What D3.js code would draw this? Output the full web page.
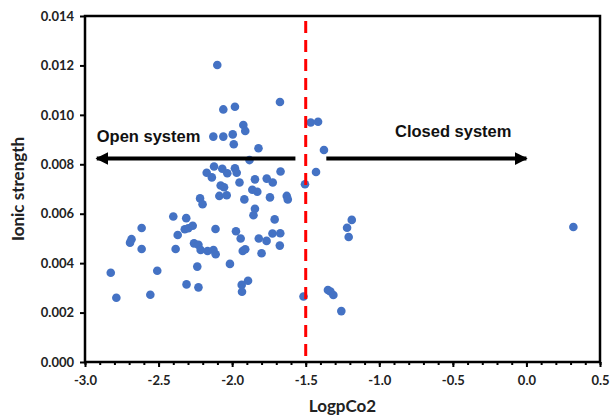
<!DOCTYPE html>
<html>
<head>
<meta charset="utf-8">
<script src="https://cdn.jsdelivr.net/npm/d3@7"></script>
<style>
  body { margin: 0; background: #fff; }
  text { font-family: Lato, "Open Sans", sans-serif; }
</style>
</head>
<body>
<div id="chart"></div>
<script>
// data: LogpCo2 vs ionic strength
var logpco2 = [
  -2.101, -2.060, -1.981, -1.675, -1.924, -1.911, -2.128, -2.060, -1.996, -1.989,
  -1.821, -1.882, -1.466, -1.416, -1.376, -1.430, -1.505, -1.187, -1.219, -1.208,
  -1.515, -1.349, -1.332, -1.312, -1.258, 0.319, -2.123, -2.067, -2.033, -1.981,
  -1.969, -2.138, -1.671, -1.950, -1.845, -1.765, -1.724, -2.078, -2.055, -2.087,
  -2.037, -1.863, -1.829, -1.917, -1.743, -1.629, -1.622, -1.845, -1.855, -1.711,
  -2.113, -1.974, -1.942, -1.819, -1.766, -1.726, -1.673, -1.676, -2.127, -2.112,
  -1.928, -1.911, -1.800, -2.015, -1.892, -1.935, -1.933, -2.173, -2.218, -2.201,
  -2.400, -2.312, -2.615, -2.322, -2.298, -2.268, -2.370, -2.684, -2.694, -2.615,
  -2.384, -2.259, -2.229, -2.214, -2.167, -2.825, -2.509, -2.237, -2.787, -2.556,
  -2.310, -2.229
];
var ionic = [
  0.01202, 0.01022, 0.01033, 0.01052, 0.00959, 0.00935, 0.00912, 0.00912, 0.00921, 0.00881,
  0.00865, 0.00817, 0.00969, 0.00972, 0.00858, 0.00769, 0.00719, 0.00575, 0.00543, 0.00506,
  0.00265, 0.00291, 0.00285, 0.00271, 0.00206, 0.00546, 0.00791, 0.00782, 0.00764, 0.00784,
  0.00766, 0.00747, 0.00771, 0.00726, 0.00739, 0.00742, 0.00726, 0.00714, 0.00707, 0.00672,
  0.00675, 0.00697, 0.00689, 0.00658, 0.00666, 0.00672, 0.00658, 0.00620, 0.00594, 0.00577,
  0.00538, 0.00529, 0.00500, 0.00500, 0.00490, 0.00520, 0.00521, 0.00471, 0.00453, 0.00436,
  0.00449, 0.00456, 0.00440, 0.00397, 0.00329, 0.00312, 0.00284, 0.00766, 0.00662, 0.00638,
  0.00589, 0.00582, 0.00542, 0.00537, 0.00541, 0.00551, 0.00514, 0.00497, 0.00483, 0.00457,
  0.00457, 0.00480, 0.00474, 0.00453, 0.00449, 0.00361, 0.00369, 0.00386, 0.00260, 0.00272,
  0.00314, 0.00302
];
var xTicks = [-3.0, -2.5, -2.0, -1.5, -1.0, -0.5, 0.0, 0.5];
var yTicks = [0, 0.002, 0.004, 0.006, 0.008, 0.010, 0.012, 0.014];
var threshold = -1.5;
var openArrow = [-1.57, -2.92];   // from, to (LogpCo2)
var closedArrow = [-1.36, 0.0];
var arrowLevel = 0.00823;

var width = 610,
    height = 417;
var margin = {top: 16, right: 10, bottom: 55, left: 85};

var svg = d3.select("#chart")
            .append("svg")
            .attr("width", width)
            .attr("height", height);

var xScale = d3.scaleLinear()
               .domain([-3, 0.5])
               .range([margin.left, width - margin.right]);
var yScale = d3.scaleLinear()
               .domain([0, 0.014])
               .range([height - margin.bottom, margin.top]);

var data = logpco2.map(function(d, i) { return {x: d, y: ionic[i]}; });

// arrow heads
var defs = svg.append("defs");
defs.append("marker")
    .attr("id", "head")
    .attr("viewBox", "0 0 10 10")
    .attr("refX", 9).attr("refY", 5)
    .attr("markerWidth", 3.2).attr("markerHeight", 3.2)
    .attr("markerUnits", "strokeWidth")
    .attr("orient", "auto")
  .append("path")
    .attr("d", "M0,0 L10,5 L0,10 z")
    .attr("fill", "#000");

// points
svg.append("g")
   .selectAll("circle")
   .data(data)
   .enter()
   .append("circle")
   .attr("cx", function(d) { return xScale(d.x); })
   .attr("cy", function(d) { return yScale(d.y); })
   .attr("r", 4.3)
   .attr("fill", "#4472C4");

// dashed threshold
svg.append("line")
   .attr("x1", xScale(threshold)).attr("x2", xScale(threshold))
   .attr("y1", yScale(0.0138)).attr("y2", yScale(0.0001))
   .attr("stroke", "#FF0000")
   .attr("stroke-width", 3)
   .attr("stroke-dasharray", "12,7");

// arrows
[openArrow, closedArrow].forEach(function(a) {
  svg.append("line")
     .attr("x1", xScale(a[0])).attr("x2", xScale(a[1]))
     .attr("y1", yScale(arrowLevel)).attr("y2", yScale(arrowLevel))
     .attr("stroke", "#000")
     .attr("stroke-width", 4)
     .attr("marker-end", "url(#head)");
});

svg.append("text")
   .attr("x", xScale(-2.92)).attr("y", 142)
   .style("font-family", "'Liberation Sans', Arial, sans-serif")
   .style("font-weight", "bold").style("font-size", "16.5px")
   .attr("fill", "#111")
   .text("Open system");
svg.append("text")
   .attr("x", 395).attr("y", 137)
   .style("font-family", "'Liberation Sans', Arial, sans-serif")
   .style("font-weight", "bold").style("font-size", "16.5px")
   .attr("fill", "#111")
   .text("Closed system");

// axes
var fmtX = function(d) { return d.toFixed(1); };
var xAxis = svg.append("g")
   .attr("transform", "translate(0," + yScale(0) + ")")
   .call(d3.axisBottom(xScale).tickValues(xTicks).tickFormat(fmtX).tickSize(5).tickPadding(9));
var minor = d3.range(-30, 6).map(function(d) { return d / 10; });
svg.append("g")
   .attr("transform", "translate(0," + yScale(0) + ")")
   .call(d3.axisBottom(xScale).tickValues(minor).tickFormat("").tickSize(3))
   .select(".domain").remove();
var yAxis = svg.append("g")
   .attr("transform", "translate(" + xScale(-3) + ",0)")
   .call(d3.axisLeft(yScale).tickValues(yTicks).tickFormat(d3.format(".3f")).tickSize(5).tickPadding(6));

svg.selectAll(".tick line").attr("stroke", "#000").attr("stroke-width", 2);
svg.selectAll(".domain").remove();
svg.selectAll(".tick text")
   .style("font-family", "Lato, sans-serif")
   .style("font-weight", "bold")
   .style("font-size", "13px")
   .attr("fill", "#222");

// frame
svg.append("rect")
   .attr("x", xScale(-3)).attr("y", yScale(0.014))
   .attr("width", xScale(0.5) - xScale(-3))
   .attr("height", yScale(0) - yScale(0.014))
   .attr("fill", "none")
   .attr("stroke", "#000")
   .attr("stroke-width", 2.5);

// axis titles
svg.append("text")
   .attr("x", (xScale(-3) + xScale(0.5)) / 2).attr("y", 412)
   .attr("text-anchor", "middle")
   .style("font-family", "Lato, sans-serif")
   .style("font-weight", "bold").style("font-size", "17px")
   .attr("fill", "#222")
   .text("LogpCo2");
svg.append("text")
   .attr("transform", "translate(24," + (yScale(0) + yScale(0.014)) / 2 + ") rotate(-90)")
   .attr("text-anchor", "middle")
   .style("font-family", "Lato, sans-serif")
   .style("font-weight", "bold").style("font-size", "17px")
   .attr("fill", "#222")
   .text("Ionic strength");
</script>
</body>
</html>
